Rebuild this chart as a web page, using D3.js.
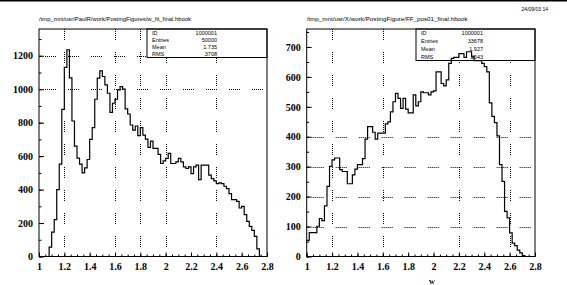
<!DOCTYPE html>
<html>
<head>
<meta charset="utf-8">
<script src="https://cdn.jsdelivr.net/npm/d3@7"></script>
<style>
body { margin: 0; background: #fff; }
svg { display: block; }
</style>
</head>
<body>
<div id="chart"></div>
<script>
var binStart = 1, binWidth = 0.02;

var leftCounts = [0,0,0,0,56,146,220,400,552,880,1130,1236,1068,810,660,588,552,500,530,580,
  700,770,940,1066,1110,1076,1026,976,862,916,940,996,1016,1000,882,852,786,756,780,722,
  770,726,702,652,690,646,646,610,556,572,586,616,556,556,566,586,566,536,526,536,
  496,536,546,460,546,546,546,486,466,452,436,440,436,420,406,376,340,340,330,290,
  300,250,210,180,156,120,46,0,0,0];

var rightCounts = [54,80,80,80,101,127,120,169,234,301,323,329,329,290,284,284,243,243,273,292,
  307,307,327,392,434,434,415,392,412,412,412,443,450,483,517,545,528,495,528,492,
  480,480,540,503,517,550,547,547,540,550,553,617,617,578,570,590,645,662,665,665,
  678,678,665,684,684,667,654,654,654,645,634,617,513,468,447,403,307,251,151,129,
  79,45,36,21,12,3,0,0,0,0];

var xTicks = [1,1.2,1.4,1.6,1.8,2,2.2,2.4,2.6,2.8];
var leftYTicks = [0,200,400,600,800,1000,1200];
var rightYTicks = [0,100,200,300,400,500,600,700];

// grid lines that survive in the reference picture
var leftGridX = [1.2,1.6,1.8,2,2.4];
var leftGridY = [1000,1200];
var rightGridX = [1.2,1.6,2.2,2.6];
var rightGridY = [100,200,300,400];

var leftTitle = "/tmp_mnt/usr/PaulR/work/PostingFigures/w_fit_final.hbook";
var rightTitle = "/tmp_mnt/usr/X/work/PostingFigure/FF_pos01_final.hbook";
var statLabels = ["ID","Entries","Mean","RMS"];
var leftStats = ["1000001","50000","1.735",".3708"];
var rightStats = ["1000001","33678","1.927",".3543"];
var xTitleRight = "w";
var dateText = "24/09/03  14";

var W = 567, H = 285;
var svg = d3.select("#chart").append("svg").attr("width", W).attr("height", H);

svg.append("rect").attr("x",0).attr("y",0).attr("width",W).attr("height",1.5).attr("fill","#000");
svg.append("text").attr("x",548).attr("y",11).attr("text-anchor","end")
  .attr("font-family","Liberation Sans").attr("font-size",5).text(dateText);

function panel(p) {
  var x = d3.scaleLinear().domain([1, 2.8]).range([p.x0, p.x1]);
  var y = d3.scaleLinear().domain([0, p.ymax]).range([256.5, 29]);
  var g = svg.append("g");

  g.append("text").attr("x", p.x0).attr("y", 21)
    .attr("font-family","Liberation Sans").attr("font-size",5.5)
    .attr("textLength", p.titleLen).attr("lengthAdjust","spacingAndGlyphs")
    .text(p.title);

  var dash = "1 1 1 1 1 1 1 1 1 1 1 12";
  g.selectAll(".gx").data(p.gridX).enter().append("line")
    .attr("x1", function(d){ return Math.round(x(d)) + 0.5; })
    .attr("x2", function(d){ return Math.round(x(d)) + 0.5; })
    .attr("y1", 29).attr("y2", 256.5)
    .attr("stroke","#000").attr("stroke-width",1).attr("stroke-dasharray",dash);
  g.selectAll(".gy").data(p.gridY).enter().append("line")
    .attr("y1", function(d){ return Math.round(y(d)) + 0.5; })
    .attr("y2", function(d){ return Math.round(y(d)) + 0.5; })
    .attr("x1", p.x0 + 6).attr("x2", p.x1)
    .attr("stroke","#000").attr("stroke-width",1).attr("stroke-dasharray",dash);

  // stats box
  var bx = p.boxX, by1 = p.boxY;
  g.append("rect").attr("x", bx).attr("y", 29).attr("width", p.x1 - bx).attr("height", by1 - 29)
    .attr("fill","#fff").attr("stroke","#000").attr("stroke-width",1);
  var rh = (by1 - 29) / 4;
  statLabels.forEach(function(s, i) {
    g.append("text").attr("x", bx + 5).attr("y", 29 + rh * i + rh * 0.5 + 2)
      .attr("font-family","Liberation Sans").attr("font-size",5.5).text(s);
    g.append("text").attr("x", p.valX).attr("y", 29 + rh * i + rh * 0.5 + 2)
      .attr("text-anchor","end")
      .attr("font-family","Liberation Sans").attr("font-size",5.5).text(p.stats[i]);
  });

  var pts = p.counts.map(function(c, i){ return [binStart + i * binWidth, c]; });
  pts.push([binStart + p.counts.length * binWidth, p.counts[p.counts.length - 1]]);
  var line = d3.line().curve(d3.curveStepAfter)
    .x(function(d){ return x(d[0]); }).y(function(d){ return y(d[1]); });
  g.append("path").datum(pts).attr("d", line)
    .attr("fill","none").attr("stroke","#000").attr("stroke-width",1.2);

  g.append("rect").attr("x", p.x0).attr("y", 29).attr("width", p.x1 - p.x0).attr("height", 227.5)
    .attr("fill","none").attr("stroke","#000").attr("stroke-width",1);

  var minorX = d3.range(1, 2.8001, 0.05);
  g.append("g").attr("transform","translate(0,256.5)")
    .call(d3.axisBottom(x).tickValues(minorX).tickSize(-2).tickFormat(""))
    .call(function(a){ a.select(".domain").remove(); });
  g.append("g").attr("transform","translate(0,256.5)")
    .call(d3.axisBottom(x).tickValues(xTicks).tickSize(-4).tickPadding(6)
      .tickFormat(function(d){ return String(d); }))
    .call(function(a){
      a.select(".domain").remove();
      a.selectAll("text").attr("font-family","Liberation Serif").attr("font-weight","bold")
        .attr("font-size",10);
    });

  var minorY = d3.range(0, p.ymax, p.minorY);
  g.append("g").attr("transform","translate(" + p.x0 + ",0)")
    .call(d3.axisLeft(y).tickValues(minorY).tickSize(-2.5).tickFormat(""))
    .call(function(a){ a.select(".domain").remove(); });
  g.append("g").attr("transform","translate(" + p.x0 + ",0)")
    .call(d3.axisLeft(y).tickValues(p.yTicks).tickSize(-5).tickPadding(6)
      .tickFormat(function(d){ return String(d); }))
    .call(function(a){
      a.select(".domain").remove();
      a.selectAll("text").attr("font-family","Liberation Serif").attr("font-weight","bold")
        .attr("font-size",10);
    });

  if (p.xTitle) {
    g.append("text").attr("x", (p.x0 + p.x1) / 2 + 11).attr("y", 283.5).attr("text-anchor","middle")
      .attr("font-family","Liberation Serif").attr("font-weight","bold").attr("font-size",8)
      .text(p.xTitle);
  }
}

panel({ x0: 39, x1: 267, ymax: 1360, counts: leftCounts, yTicks: leftYTicks, minorY: 100,
  gridX: leftGridX, gridY: leftGridY, title: leftTitle, titleLen: 152,
  boxX: 147, boxY: 57.5, valX: 217, stats: leftStats });
panel({ x0: 306.7, x1: 535, ymax: 760, counts: rightCounts, yTicks: rightYTicks, minorY: 50,
  gridX: rightGridX, gridY: rightGridY, title: rightTitle, titleLen: 161,
  boxX: 416, boxY: 60.5, valX: 483, stats: rightStats, xTitle: xTitleRight });
</script>
</body>
</html>
